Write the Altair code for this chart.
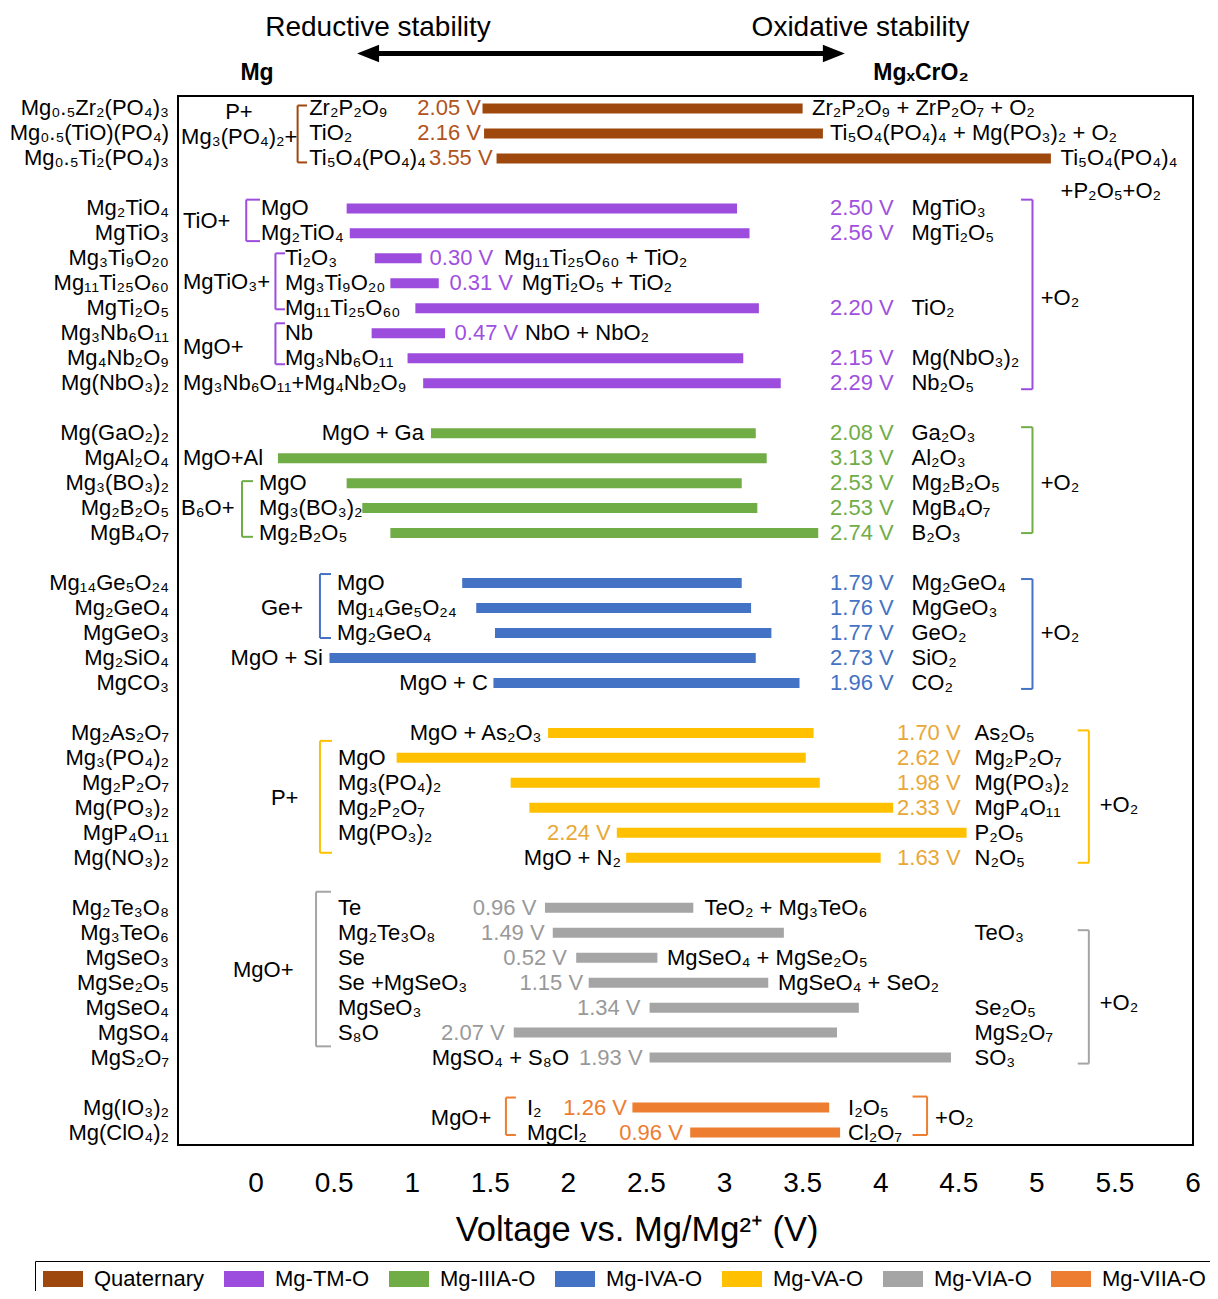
import altair as alt
import pandas as pd

FONT = "Liberation Sans"

groups = ["Quaternary", "Mg-TM-O", "Mg-IIIA-O", "Mg-IVA-O", "Mg-VA-O", "Mg-VIA-O", "Mg-VIIA-O"]
bar_colors = ["#9E480E", "#9C4DDE", "#70AD47", "#4472C4", "#FFC000", "#A5A5A5", "#ED7D31"]
value_colors = ["#B0541A", "#A050E0", "#70AD47", "#4472C4", "#E8A838", "#999999", "#ED7D31"]

compounds = [
    "Mg₀.₅Zr₂(PO₄)₃", "Mg₀.₅(TiO)(PO₄)", "Mg₀.₅Ti₂(PO₄)₃",
    "Mg₂TiO₄", "MgTiO₃", "Mg₃Ti₉O₂₀", "Mg₁₁Ti₂₅O₆₀", "MgTi₂O₅", "Mg₃Nb₆O₁₁", "Mg₄Nb₂O₉", "Mg(NbO₃)₂",
    "Mg(GaO₂)₂", "MgAl₂O₄", "Mg₃(BO₃)₂", "Mg₂B₂O₅", "MgB₄O₇",
    "Mg₁₄Ge₅O₂₄", "Mg₂GeO₄", "MgGeO₃", "Mg₂SiO₄", "MgCO₃",
    "Mg₂As₂O₇", "Mg₃(PO₄)₂", "Mg₂P₂O₇", "Mg(PO₃)₂", "MgP₄O₁₁", "Mg(NO₃)₂",
    "Mg₂Te₃O₈", "Mg₃TeO₆", "MgSeO₃", "MgSe₂O₅", "MgSeO₄", "MgSO₄", "MgS₂O₇",
    "Mg(IO₃)₂", "Mg(ClO₄)₂",
]
compound_group = [0] * 3 + [1] * 8 + [2] * 5 + [3] * 5 + [4] * 6 + [5] * 7 + [6] * 2
rows = [0, 1, 2,
        4, 5, 6, 7, 8, 9, 10, 11,
        13, 14, 15, 16, 17,
        19, 20, 21, 22, 23,
        25, 26, 27, 28, 29, 30,
        32, 33, 34, 35, 36, 37, 38,
        40, 41]
v_start = [1.45, 1.46, 1.54,
           0.58, 0.60, 0.76, 0.86, 1.02, 0.74, 0.97, 1.07,
           1.12, 0.14, 0.58, 0.68, 0.86,
           1.32, 1.41, 1.53, 0.47, 1.52,
           1.87, 0.90, 1.63, 1.75, 2.31, 2.37,
           1.85, 1.90, 2.05, 2.13, 2.52, 1.65, 2.52,
           2.41, 2.78]
v_end = [3.50, 3.63, 5.09,
         3.08, 3.16, 1.06, 1.17, 3.22, 1.21, 3.12, 3.36,
         3.20, 3.27, 3.11, 3.21, 3.60,
         3.11, 3.17, 3.30, 3.20, 3.48,
         3.57, 3.52, 3.61, 4.08, 4.55, 4.00,
         2.80, 3.38, 2.57, 3.28, 3.86, 3.72, 4.45,
         3.67, 3.74]
windows = ["2.05 V", "2.16 V", "3.55 V",
           "2.50 V", "2.56 V", "0.30 V", "0.31 V", "2.20 V", "0.47 V", "2.15 V", "2.29 V",
           "2.08 V", "3.13 V", "2.53 V", "2.53 V", "2.74 V",
           "1.79 V", "1.76 V", "1.77 V", "2.73 V", "1.96 V",
           "1.70 V", "2.62 V", "1.98 V", "2.33 V", "2.24 V", "1.63 V",
           "0.96 V", "1.49 V", "0.52 V", "1.15 V", "1.34 V", "2.07 V", "1.93 V",
           "1.26 V", "0.96 V"]
# where each window label sits (V) and how it is aligned
window_x = [1.44, 1.44, 1.515,
            4.083, 4.083, 1.111, 1.238, 4.083, 1.271, 4.083, 4.083,
            4.083, 4.083, 4.083, 4.083, 4.083,
            4.083, 4.083, 4.083, 4.083, 4.083,
            4.512, 4.512, 4.512, 4.512, 2.271, 4.512,
            1.795, 1.848, 1.991, 2.094, 2.462, 1.592, 2.475,
            2.375, 2.733]
window_align = ["right"] * 3 + ["right", "right", "left", "left", "right", "left", "right", "right"] + \
               ["right"] * 5 + ["right"] * 5 + ["right"] * 6 + ["right"] * 7 + ["right"] * 2

tick_values = [0, 0.5, 1, 1.5, 2, 2.5, 3, 3.5, 4, 4.5, 5, 5.5, 6]
tick_labels = ["0", "0.5", "1", "1.5", "2", "2.5", "3", "3.5", "4", "4.5", "5", "5.5", "6"]
x_title = "Voltage vs. Mg/Mg²⁺ (V)"

# black annotation texts: (text, x in V, row)
notes_left = [
    ("Mg₃(PO₄)₂+", -0.48, 1.16), ("Zr₂P₂O₉", 0.34, 0), ("TiO₂", 0.34, 1), ("Ti₅O₄(PO₄)₄", 0.34, 2),
    ("Zr₂P₂O₉ + ZrP₂O₇ + O₂", 3.56, 0), ("Ti₅O₄(PO₄)₄ + Mg(PO₃)₂ + O₂", 3.675, 1),
    ("Ti₅O₄(PO₄)₄", 5.152, 2), ("+P₂O₅+O₂", 5.152, 3.3),
    ("TiO+", -0.468, 4.5), ("MgO", 0.031, 4), ("Mg₂TiO₄", 0.031, 5),
    ("MgTiO₃+", -0.468, 6.95), ("Ti₂O₃", 0.185, 6), ("Mg₃Ti₉O₂₀", 0.185, 7), ("Mg₁₁Ti₂₅O₆₀", 0.185, 8),
    ("Mg₁₁Ti₂₅O₆₀ + TiO₂", 1.588, 6), ("MgTi₂O₅ + TiO₂", 1.701, 7),
    ("MgO+", -0.468, 9.55), ("Nb", 0.185, 9), ("Mg₃Nb₆O₁₁", 0.185, 10), ("NbO + NbO₂", 1.722, 9),
    ("Mg₃Nb₆O₁₁+Mg₄Nb₂O₉", -0.468, 11),
    ("MgTiO₃", 4.197, 4), ("MgTi₂O₅", 4.197, 5), ("TiO₂", 4.197, 8), ("Mg(NbO₃)₂", 4.197, 10), ("Nb₂O₅", 4.197, 11),
    ("+O₂", 5.025, 7.6),
    ("MgO+Al", -0.468, 14), ("B₆O+", -0.481, 16),
    ("MgO", 0.019, 15), ("Mg₃(BO₃)₂", 0.019, 16), ("Mg₂B₂O₅", 0.019, 17),
    ("Ga₂O₃", 4.197, 13), ("Al₂O₃", 4.197, 14), ("Mg₂B₂O₅", 4.197, 15), ("MgB₄O₇", 4.197, 16), ("B₂O₃", 4.197, 17),
    ("+O₂", 5.025, 15),
    ("Ge+", 0.031, 20), ("MgO", 0.518, 19), ("Mg₁₄Ge₅O₂₄", 0.518, 20), ("Mg₂GeO₄", 0.518, 21),
    ("Mg₂GeO₄", 4.197, 19), ("MgGeO₃", 4.197, 20), ("GeO₂", 4.197, 21), ("SiO₂", 4.197, 22), ("CO₂", 4.197, 23),
    ("+O₂", 5.025, 21),
    ("P+", 0.095, 27.6), ("MgO", 0.524, 26), ("Mg₃(PO₄)₂", 0.524, 27), ("Mg₂P₂O₇", 0.524, 28), ("Mg(PO₃)₂", 0.524, 29),
    ("As₂O₅", 4.601, 25), ("Mg₂P₂O₇", 4.601, 26), ("Mg(PO₃)₂", 4.601, 27), ("MgP₄O₁₁", 4.601, 28),
    ("P₂O₅", 4.601, 29), ("N₂O₅", 4.601, 30), ("+O₂", 5.403, 27.9),
    ("MgO+", -0.148, 34.5), ("Te", 0.524, 32), ("Mg₂Te₃O₈", 0.524, 33), ("Se", 0.524, 34),
    ("Se +MgSeO₃", 0.524, 35), ("MgSeO₃", 0.524, 36), ("S₈O", 0.524, 37),
    ("TeO₂ + Mg₃TeO₆", 2.872, 32), ("MgSeO₄ + MgSe₂O₅", 2.631, 34), ("MgSeO₄ + SeO₂", 3.342, 35),
    ("TeO₃", 4.601, 33), ("Se₂O₅", 4.601, 36), ("MgS₂O₇", 4.601, 37), ("SO₃", 4.601, 38),
    ("+O₂", 5.403, 35.8),
    ("MgO+", 1.119, 40.4), ("I₂", 1.735, 40), ("MgCl₂", 1.735, 41),
    ("I₂O₅", 3.791, 40), ("Cl₂O₇", 3.791, 41), ("+O₂", 4.348, 40.4),
]
notes_right = [
    ("MgO + Ga", 1.075, 13), ("MgO + Si", 0.428, 22), ("MgO + C", 1.485, 23),
    ("MgO + As₂O₃", 1.828, 25), ("MgO + N₂", 2.337, 30), ("MgSO₄ + S₈O", 2.004, 38),
]
notes_center = [
    ("P+", -0.11, 0.15, 22), ("Reductive stability", 0.781, -3.24, 28), ("Oxidative stability", 3.871, -3.24, 28),
]
notes_bold = [("Mg", 0.006, -1.44), ("MgₓCrO₂", 4.258, -1.44)]

# brackets: (x of vertical stroke, x of tick ends, top row, bottom row, group index)
brackets = [
    (0.266, 0.326, -0.12, 2.16, 0),
    (-0.063, 0.025, 3.65, 5.31, 1), (0.124, 0.185, 5.8, 8.04, 1), (0.124, 0.185, 8.6, 10.24, 1),
    (4.972, 4.899, 3.65, 11.24, 1),
    (-0.09, -0.02, 14.92, 17.15, 2), (4.972, 4.899, 12.76, 17.0, 2),
    (0.409, 0.48, 18.64, 21.2, 3), (4.972, 4.899, 18.84, 23.24, 3),
    (0.409, 0.486, 25.32, 29.8, 4), (5.333, 5.262, 24.9, 30.2, 4),
    (0.384, 0.48, 31.36, 37.55, 5), (5.333, 5.262, 32.9, 38.24, 5),
    (1.60, 1.664, 39.6, 41.1, 6), (4.297, 4.204, 39.56, 41.1, 6),
]

# ---------------- tables ----------------
df_bars = pd.DataFrame({
    "compound": compounds,
    "group": [groups[g] for g in compound_group],
    "row": rows, "start": v_start, "end": v_end,
})
df_win = pd.DataFrame({
    "text": windows, "x": window_x, "row": rows, "align": window_align,
    "color": [value_colors[g] for g in compound_group], "size": 22,
})
df_left = pd.concat([
    df_win[df_win["align"] == "left"][["text", "x", "row", "color", "size"]],
    pd.DataFrame([{"text": t, "x": x, "row": r, "color": "black", "size": 22} for t, x, r in notes_left]),
], ignore_index=True)
df_right = pd.concat([
    df_win[df_win["align"] == "right"][["text", "x", "row", "color", "size"]],
    pd.DataFrame([{"text": t, "x": x, "row": r, "color": "black", "size": 22} for t, x, r in notes_right]),
], ignore_index=True)
df_center = pd.concat([
    pd.DataFrame([{"text": t, "x": x, "row": r, "color": "black", "size": s} for t, x, r, s in notes_center]),
    pd.DataFrame({"text": tick_labels, "x": tick_values, "row": 43.08, "color": "black", "size": 28}),
    pd.DataFrame({"text": [x_title], "x": [2.44], "row": [44.96], "color": ["black"], "size": [34.5]}),
], ignore_index=True)
df_bold = pd.DataFrame([{"text": t, "x": x, "row": r, "color": "black", "size": 23} for t, x, r in notes_bold])
df_br = pd.DataFrame([{"xv": a, "xt": b, "y0": c, "y1": d, "color": bar_colors[g]} for a, b, c, d, g in brackets])
df_shaft = pd.DataFrame({"x0": [0.75], "x1": [3.67], "row": [-2.2]})
df_heads = pd.DataFrame({"x": [0.717, 3.70], "row": [-2.2, -2.2],
                         "shape": ["M1,-0.8L-1,0L1,0.8Z", "M-1,-0.8L1,0L-1,0.8Z"]})

xs = alt.Scale(domain=[-0.5, 6], nice=False, zero=False)
ys = alt.Scale(domain=[-0.5, 41.5], reverse=True, nice=False, zero=False)

x_axis = alt.Axis(
    values=tick_values, grid=True, gridColor="#D9D9D9", gridWidth=1, ticks=False, domain=False,
    labels=False, title=None,
)
legend = alt.Legend(
    title=None, orient="none", legendX=-143, legendY=1165, direction="horizontal",
    symbolType="M-1,-0.8L3,-0.8L3,0.8L-1,0.8Z", symbolSize=400, symbolStrokeWidth=0, symbolOpacity=1,
    labelFont=FONT, labelFontSize=22, labelColor="black", labelOffset=30, columnPadding=18,
    padding=7, strokeColor="black", labelLimit=300,
)

bars = alt.Chart(df_bars).transform_calculate(
    y0="datum.row - 0.2", y1="datum.row + 0.2"
).mark_bar().encode(
    x=alt.X("start:Q", scale=xs, axis=x_axis),
    x2="end:Q",
    y=alt.Y("y0:Q", scale=ys, axis=None),
    y2="y1:Q",
    color=alt.Color("group:N", scale=alt.Scale(domain=groups, range=bar_colors), legend=legend),
)

names = alt.Chart(df_bars).mark_text(
    align="right", baseline="middle", font=FONT, fontSize=22, dx=-9, color="black"
).encode(x=alt.value(0), y=alt.Y("row:Q", scale=ys, axis=None), text="compound:N")


def text_layer(df, align, weight="normal"):
    return alt.Chart(df).mark_text(align=align, baseline="middle", font=FONT, fontWeight=weight).encode(
        x=alt.X("x:Q", scale=xs, axis=None),
        y=alt.Y("row:Q", scale=ys, axis=None),
        text="text:N",
        size=alt.Size("size:Q", scale=None),
        color=alt.Color("color:N", scale=None),
    )


br_v = alt.Chart(df_br).mark_rule(strokeWidth=2).encode(
    x=alt.X("xv:Q", scale=xs, axis=None), y=alt.Y("y0:Q", scale=ys, axis=None), y2="y1:Q",
    color=alt.Color("color:N", scale=None))
br_top = alt.Chart(df_br).mark_rule(strokeWidth=2).encode(
    x=alt.X("xv:Q", scale=xs, axis=None), x2="xt:Q", y=alt.Y("y0:Q", scale=ys, axis=None),
    color=alt.Color("color:N", scale=None))
br_bot = alt.Chart(df_br).mark_rule(strokeWidth=2).encode(
    x=alt.X("xv:Q", scale=xs, axis=None), x2="xt:Q", y=alt.Y("y1:Q", scale=ys, axis=None),
    color=alt.Color("color:N", scale=None))

shaft = alt.Chart(df_shaft).mark_rule(strokeWidth=5, color="black").encode(
    x=alt.X("x0:Q", scale=xs, axis=None), x2="x1:Q", y=alt.Y("row:Q", scale=ys, axis=None))
heads = alt.Chart(df_heads).mark_point(filled=True, size=484, color="black", opacity=1, strokeWidth=0).encode(
    x=alt.X("x:Q", scale=xs, axis=None), y=alt.Y("row:Q", scale=ys, axis=None),
    shape=alt.Shape("shape:N", scale=None))

chart = alt.layer(
    bars, br_v, br_top, br_bot, names,
    text_layer(df_left, "left"), text_layer(df_right, "right"), text_layer(df_center, "center"),
    text_layer(df_bold, "center", "bold"), shaft, heads,
).properties(
    width=1015, height=1049,
    autosize=alt.AutoSizeParams(type="none"),
    padding={"left": 170, "top": 88, "right": 17, "bottom": 146},
).configure_view(stroke="black", strokeWidth=2)

chart.save("out.html", embed_options={"renderer": "svg", "actions": False})
